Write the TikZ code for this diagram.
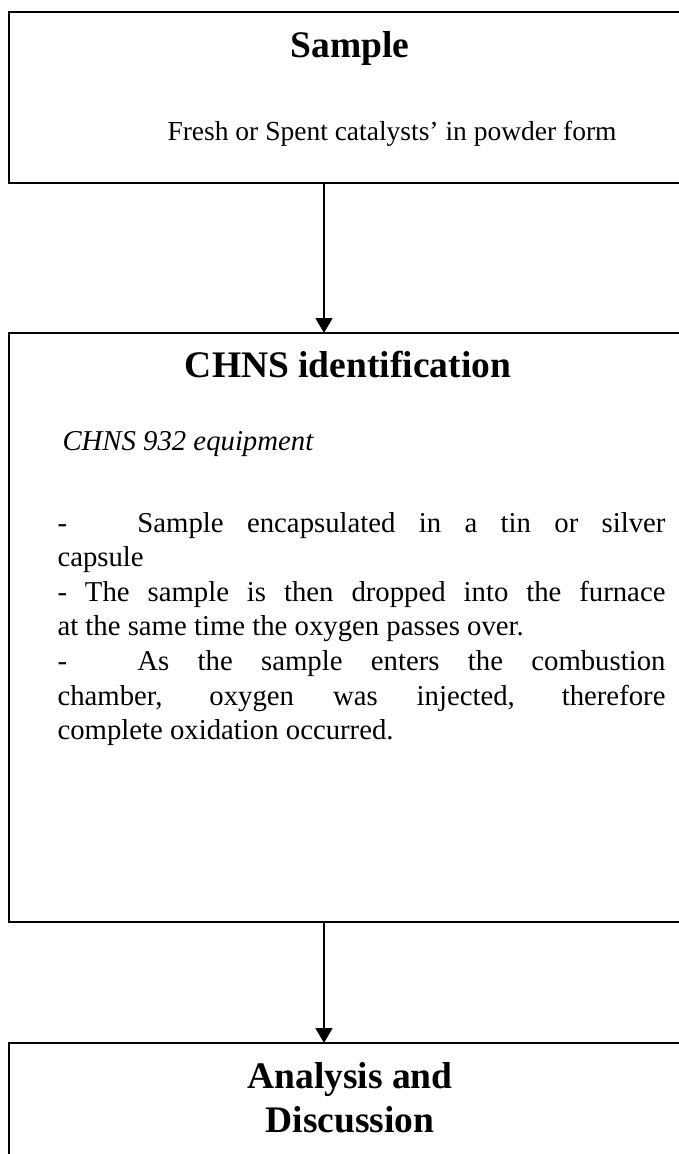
\documentclass[tikz,border=0pt]{standalone}
\usepackage{fontspec}
\setmainfont{Liberation Serif}
\usetikzlibrary{arrows.meta}

\begin{document}
\begin{tikzpicture}[x=0.4pt, y=-0.4pt,
    box/.style={draw, line width=0.8pt, inner sep=0pt, outer sep=0pt, anchor=north west},
    head/.style={font=\fontsize{15}{17.6}\selectfont\bfseries, anchor=base, inner sep=0pt},
    body/.style={font=\fontsize{11.5}{13.84}\selectfont, anchor=base west, inner sep=0pt},
    flow/.style={line width=0.6pt, -{Triangle[width=6.8pt, length=6pt]}}]
    % Page
    \clip (0,0) rectangle (679,1154);

    % Define points
    \coordinate (A) at (324,0);

    % Draw boxes
    \node[box, minimum width=700*0.4pt, minimum height=171*0.4pt] (sample) at (9,12) {};
    \node[box, minimum width=700*0.4pt, minimum height=589*0.4pt] (chns) at (9,333) {};
    \node[box, minimum width=700*0.4pt, minimum height=200*0.4pt] (analysis) at (9,1043) {};

    % Draw arrows
    \draw[flow] (sample.south -| A) -- (chns.north -| A);
    \draw[flow] (chns.south -| A) -- (analysis.north -| A);

    % Label top box
    \node[head] (sampletitle) at (350,57) {Sample};
    \node[body, font=\fontsize{11}{13}\selectfont] (sampletext) at (167,140) {Fresh or Spent catalysts' in powder form};

    % Label middle box
    \node[head] (chnstitle) at (348,377) {CHNS identification};
    \node[body] (chnsdevice) at (62,450) {\itshape CHNS 932 equipment};
    \node[body, text width=608*0.4pt, align=justify] (chnssteps) at (57,532) {%
        \hyphenpenalty=10000
        \makebox[32pt][l]{-}Sample encapsulated in a tin or silver\linebreak
        capsule\par
        - The sample is then dropped into the furnace\linebreak
        at the same time the oxygen passes over.\par
        \makebox[32pt][l]{-}As the sample enters the combustion\linebreak
        chamber, oxygen was injected, therefore\linebreak
        complete oxidation occurred.};

    % Label bottom box
    \node[head, align=center, anchor=north] (analysistitle) at (350,1062) {Analysis and\\Discussion};
\end{tikzpicture}
\end{document}
